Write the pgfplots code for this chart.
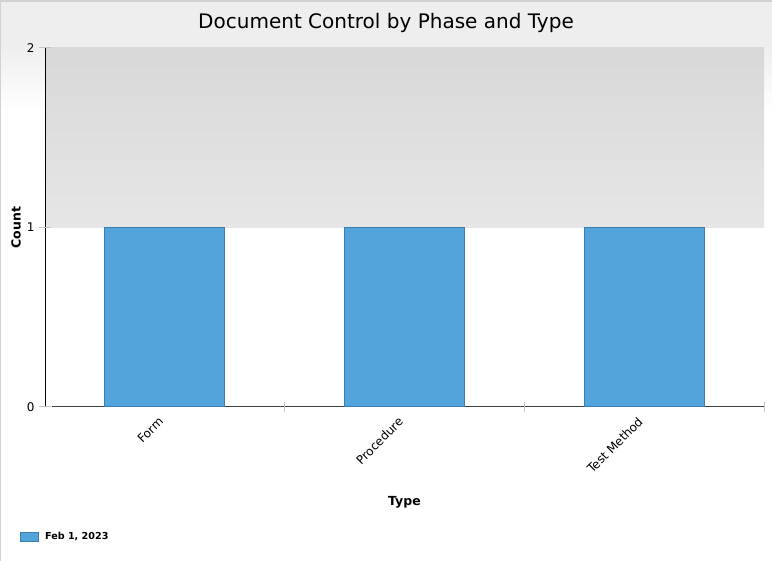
\documentclass[border=0pt]{standalone}
\usepackage{fontspec}
\setmainfont{DejaVu Sans}
\usepackage{pgfplots}
\pgfplotsset{compat=1.18}
\definecolor{barfill}{HTML}{51A5DB}
\definecolor{barline}{HTML}{3B7DAE}
\definecolor{bandtop}{HTML}{D8D8D8}
\definecolor{bandbot}{HTML}{E6E6E6}
\definecolor{frame}{HTML}{D2D2D2}
\definecolor{head}{HTML}{EEEEEE}
\definecolor{tickgray}{HTML}{C4C4C4}
\definecolor{axisgray}{HTML}{404040}

\pgfdeclarelayer{pagebg}
\pgfdeclarelayer{axis background}
\pgfdeclarelayer{axis grid}
\pgfdeclarelayer{axis ticks}
\pgfdeclarelayer{axis lines}
\pgfdeclarelayer{axis tick labels}
\pgfdeclarelayer{axis descriptions}
\pgfdeclarelayer{axis foreground}
\pgfplotsset{
    layers/withbg/.define layer set={
        pagebg,axis background,axis grid,axis ticks,axis lines,
        axis tick labels,main,axis descriptions,axis foreground}{},
}

\begin{document}
\begin{tikzpicture}[x=1pt,y=1pt]
\pgfsetlayers{pagebg,axis background,axis grid,axis ticks,axis lines,axis tick labels,main,axis descriptions,axis foreground}
% page background with header fade
\begin{pgfonlayer}{pagebg}
\fill[white] (0,0) rectangle (772,561);
\fill[head] (0,516) rectangle (772,559);
\shade[top color=head, bottom color=white] (0,450) rectangle (772,516);
\fill[frame] (0,559) rectangle (772,561);
\fill[frame] (0,0) rectangle (1,561);
\end{pgfonlayer}
\node[font=\fontsize{20}{24}\selectfont] at (386,538) {Document Control by Phase and Type};

\begin{axis}[
    at={(45pt,154pt)}, anchor=south west,
    scale only axis, width=719pt, height=359pt,
    set layers=withbg,
    xmin=-0.5, xmax=2.5, ymin=0, ymax=2,
    axis lines*=left,
    x axis line style={draw=axisgray, line width=1pt, shorten <=7pt},
    y axis line style={draw=black, line width=1pt},
    ybar, bar width=0.5,
    xtick={0,1,2}, xticklabels={Form,Procedure,Test Method},
    major x tick style={draw=none},
    extra x ticks={0.5,1.5,2.5}, extra x tick labels={},
    extra x tick style={major x tick style={draw=tickgray, line width=1pt},
        major tick length=10pt, tick align=center},
    ytick={0,1,2},
    major y tick style={draw=none},
    extra y ticks={0,1,2}, extra y tick labels={},
    extra y tick style={major y tick style={draw=tickgray, line width=1pt},
        major tick length=12pt, tick align=center},
    /pgf/number format/assume math mode=true,
    tick label style={font=\fontsize{12}{14}\selectfont},
    x tick label style={xshift=-7pt, rotate=45, anchor=north east},
    y tick label style={xshift=-7pt},
    xlabel={Type}, ylabel={Count},
    label style={font=\bfseries\fontsize{12.5}{15}\selectfont},
    xlabel style={at={(axis description cs:0.5,-0.2646)}, anchor=center},
    ylabel style={at={(axis description cs:-0.0403,0.5)}, anchor=center},
    legend style={at={(axis description cs:-0.0348,-0.362)}, anchor=west,
        draw=none, fill=none, inner sep=0pt,
        nodes={inner sep=0pt},
        font=\bfseries\fontsize{9.6}{12}\selectfont,
        /tikz/every odd column/.append style={column sep=6pt}},
    legend image code/.code={\draw[#1] (0pt,-4.5pt) rectangle (18pt,4.5pt);},
]
\begin{pgfonlayer}{axis background}
\shade[top color=bandtop, bottom color=bandbot] (axis cs:-0.5,1) rectangle (axis cs:2.5,2);
\end{pgfonlayer}
\addplot[fill=barfill, draw=barline, line width=1pt] coordinates {(0,1) (1,1) (2,1)};
\addlegendentry{Feb 1, 2023}
\end{axis}
\end{tikzpicture}
\end{document}
